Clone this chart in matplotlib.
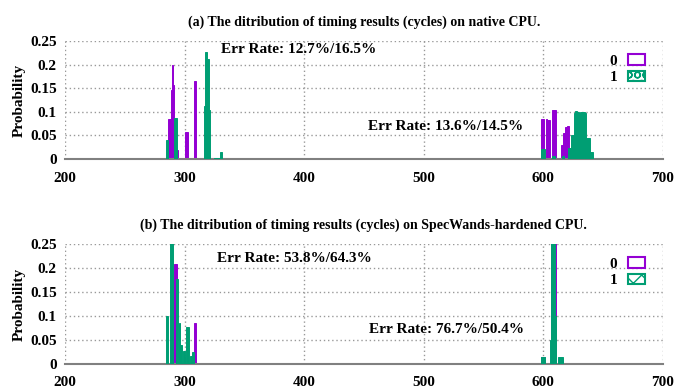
import matplotlib
matplotlib.use("Agg")
import matplotlib.pyplot as plt
from matplotlib.patches import Patch

plt.rcParams['font.family'] = ['Liberation Serif', 'DejaVu Serif']
plt.rcParams['font.weight'] = 'bold'
plt.rcParams['hatch.linewidth'] = 1.0

PURPLE = '#9400d3'
GREEN = '#009e73'

titles = ["(a) The ditribution of timing results (cycles) on native CPU.",
          "(b) The ditribution of timing results (cycles) on SpecWands-hardened CPU."]
series_labels = ["0", "1"]
xticks = [200, 300, 400, 500, 600, 700]
yticks = [0, 0.05, 0.1, 0.15, 0.2, 0.25]
ytick_labels = ["0", "0.05", "0.1", "0.15", "0.2", "0.25"]

# Panel (a) native CPU
a0_x = [287, 288, 289, 290, 291, 294, 301, 302, 308, 309,
        599, 600, 603, 604, 605, 608, 609, 610, 615, 616, 617, 618, 619, 620, 621]
a0_y = [0.085, 0.085, 0.147, 0.2, 0.157, 0.02, 0.058, 0.058, 0.166, 0.166,
        0.085, 0.085, 0.084, 0.082, 0.082, 0.105, 0.105, 0.105, 0.03, 0.03, 0.055, 0.055, 0.069, 0.071, 0.071]
a1_x = [285, 286, 292, 293, 317, 318, 319, 320, 321, 325, 326, 327, 328, 329, 330, 331,
        599, 600, 601, 608, 609, 616, 617, 621, 622, 623, 624, 625, 626, 627, 628,
        629, 630, 631, 632, 633, 634, 635, 636, 637, 638, 639, 640, 641]
a1_y = [0.04, 0.04, 0.088, 0.088, 0.112, 0.227, 0.212, 0.212, 0.104, 0.002, 0.002, 0.002, 0.002, 0.002, 0.016, 0.016,
        0.021, 0.021, 0.021, 0.006, 0.006, 0.006, 0.006, 0.023, 0.023, 0.023, 0.051, 0.051, 0.098, 0.101, 0.101,
        0.1, 0.097, 0.1, 0.099, 0.1, 0.1, 0.098, 0.044, 0.044, 0.044, 0.044, 0.016, 0.016]

# Panel (b) SpecWands-hardened CPU
b0_x = [290, 291, 292, 293, 295, 300, 308, 309,
        599, 600, 601, 607, 608, 609, 610, 614, 615, 616]
b0_y = [0.175, 0.175, 0.208, 0.208, 0.03, 0.014, 0.085, 0.085,
        0.015, 0.015, 0.015, 0.26, 0.26, 0.26, 0.26, 0.01, 0.01, 0.01]
b1_x = [285, 286, 288, 289, 290, 293, 294, 296, 297, 299, 300, 302, 303, 305, 306, 307,
        599, 600, 601, 606, 607, 608, 609, 610, 613, 614, 615, 616]
b1_y = [0.1, 0.1, 0.26, 0.26, 0.26, 0.177, 0.177, 0.085, 0.04, 0.028, 0.028, 0.076, 0.076, 0.017, 0.017, 0.024,
        0.015, 0.015, 0.015, 0.05, 0.26, 0.26, 0.26, 0.1, 0.015, 0.015, 0.015, 0.015]

annotations_a = [("Err Rate: 12.7%/16.5%", 395, 0.232), ("Err Rate: 13.6%/14.5%", 518, 0.07)]
annotations_b = [("Err Rate: 53.8%/64.3%", 392, 0.219), ("Err Rate: 76.7%/50.4%", 519, 0.071)]

fig = plt.figure(figsize=(6.89, 3.88), dpi=100)
ax_a = fig.add_axes([0.0943, 0.590, 0.8677, 0.304])
ax_b = fig.add_axes([0.0943, 0.062, 0.8677, 0.309])

panels = [
    (ax_a, titles[0], a0_x, a0_y, a1_x, a1_y, annotations_a, 'OO'),
    (ax_b, titles[1], b0_x, b0_y, b1_x, b1_y, annotations_b, 'xx'),
]

for ax, title, x0, y0, x1, y1, anns, hatch in panels:
    ax.bar(x0, y0, width=1.0, color=PURPLE, edgecolor=PURPLE, linewidth=0.7, zorder=2)
    ax.bar(x1, y1, width=1.0, color=GREEN, edgecolor=GREEN, linewidth=0.7, zorder=3)
    ax.set_xlim(200, 700)
    ax.set_ylim(0, 0.25)
    ax.set_xticks(xticks)
    ax.set_xticklabels([str(v) for v in xticks], fontsize=11, fontweight='bold')
    ax.set_yticks(yticks)
    ax.set_yticklabels(ytick_labels, fontsize=11, fontweight='bold')
    ax.tick_params(length=0, pad=6)
    ax.tick_params(axis='x', pad=9)
    ax.grid(True, color='#999999', linestyle=(0, (1, 2)), linewidth=1.0, zorder=0)
    for s in ['top', 'right', 'left']:
        ax.spines[s].set_visible(False)
    ax.spines['bottom'].set_color('#808080')
    ax.spines['bottom'].set_linewidth(1.5)
    ax.set_ylabel("Probability", fontsize=11, fontweight='bold')
    ax.set_title(title, fontsize=10, fontweight='bold', pad=11)
    for txt, tx, ty in anns:
        ax.text(tx, ty, txt, fontsize=11, fontweight='bold', ha='center', va='center',
                zorder=5)
    handles = [Patch(facecolor='white', edgecolor=PURPLE, linewidth=1.5, label=series_labels[0]),
               Patch(facecolor='white', edgecolor=GREEN, linewidth=1.5, hatch=hatch, label=series_labels[1])]
    leg = ax.legend(handles=handles, loc='upper right', bbox_to_anchor=(0.985, 0.97),
                    frameon=False, markerfirst=False, fontsize=11,
                    handlelength=1.1, handleheight=0.7, handletextpad=0.7,
                    labelspacing=0.2, borderaxespad=0.2)
    for t in leg.get_texts():
        t.set_fontweight('bold')
    ax.yaxis.set_label_coords(-0.066, 0.5)

fig.savefig("out.png", dpi=100)
